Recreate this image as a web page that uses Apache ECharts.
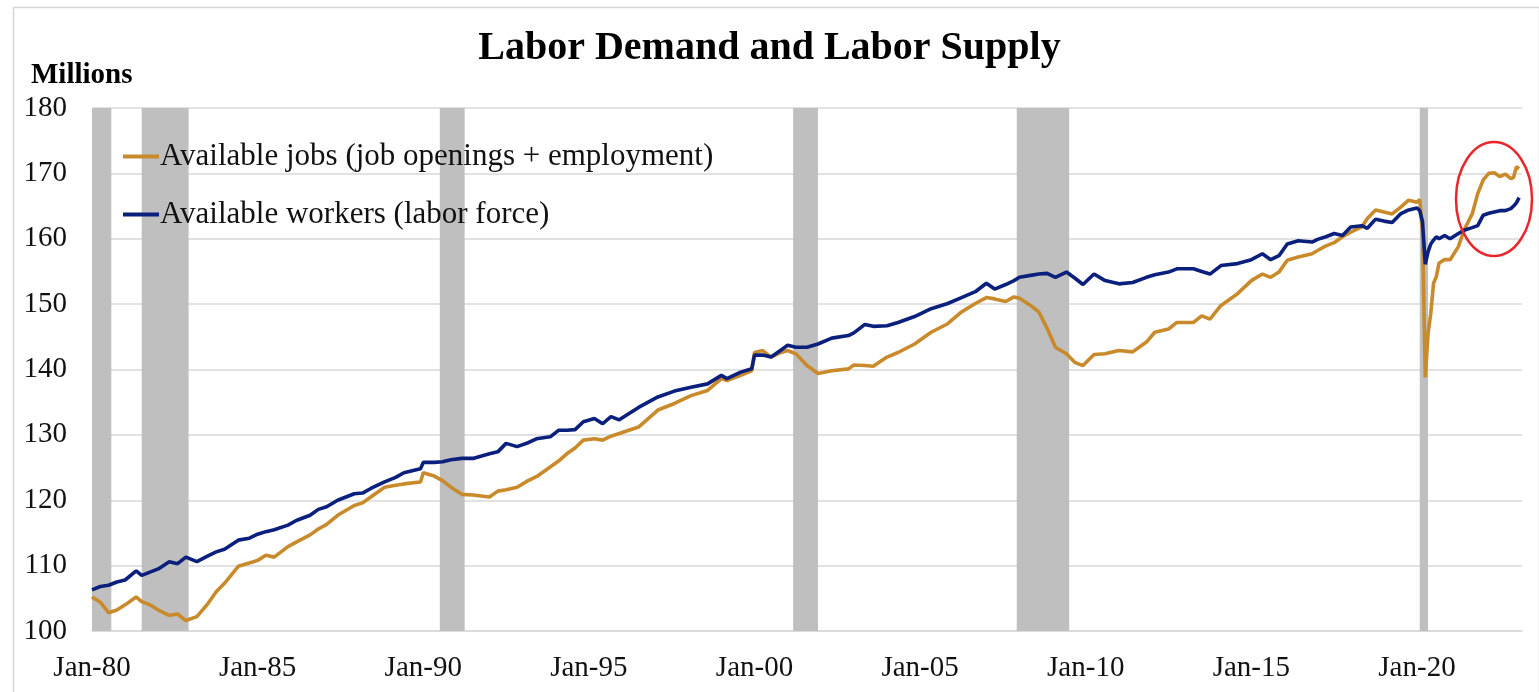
<!DOCTYPE html>
<html>
<head>
<meta charset="utf-8">
<script src="https://cdn.jsdelivr.net/npm/echarts@6/dist/echarts.min.js"></script>
<style>
html,body{margin:0;padding:0;background:#fff;}
#chart{width:1539px;height:692px;}
</style>
</head>
<body>
<div id="chart"></div>
<script>
// ---- data (millions) ----
const dates = ['1980-01','1980-04','1980-07','1980-10','1981-01','1981-05','1981-07','1981-10','1982-01','1982-05','1982-08','1982-11','1983-03','1983-07','1983-10','1984-01','1984-06','1984-10','1985-01','1985-04','1985-07','1985-12','1986-03','1986-08','1986-11','1987-02','1987-06','1987-12','1988-03','1988-06','1988-11','1989-03','1989-06','1989-12','1990-01','1990-05','1990-08','1990-11','1991-03','1991-07','1992-01','1992-04','1992-07','1992-11','1993-03','1993-06','1993-11','1994-02','1994-05','1994-08','1994-11','1995-03','1995-06','1995-09','1995-12','1996-07','1997-02','1997-08','1998-02','1998-08','1999-01','1999-03','1999-08','1999-12','2000-01','2000-04','2000-07','2000-10','2001-01','2001-04','2001-08','2001-12','2002-05','2002-11','2003-01','2003-05','2003-08','2004-01','2004-05','2004-11','2005-05','2005-11','2006-04','2006-09','2007-01','2007-04','2007-08','2007-11','2008-01','2008-05','2008-08','2008-11','2009-02','2009-06','2009-09','2009-12','2010-04','2010-08','2011-01','2011-06','2011-11','2012-02','2012-07','2012-10','2013-04','2013-07','2013-10','2014-02','2014-08','2015-01','2015-05','2015-08','2015-11','2016-02','2016-06','2016-11','2017-01','2017-04','2017-07','2017-10','2018-01','2018-05','2018-07','2018-10','2019-01','2019-04','2019-07','2019-10','2020-01','2020-02','2020-03','2020-04','2020-05','2020-06','2020-07','2020-08','2020-09','2020-11','2021-01','2021-04','2021-06','2021-09','2021-11','2022-01','2022-03','2022-05','2022-07','2022-09','2022-11','2022-12','2023-01','2023-02'];
const workers = [106.3,106.8,107.0,107.5,107.8,109.2,108.5,109.0,109.5,110.6,110.3,111.3,110.6,111.5,112.1,112.5,113.9,114.2,114.8,115.2,115.5,116.2,116.9,117.7,118.6,119.0,120.0,121.0,121.1,121.8,122.8,123.5,124.2,124.8,125.8,125.8,125.9,126.2,126.4,126.4,127.1,127.4,128.7,128.2,128.8,129.4,129.7,130.7,130.7,130.8,132.0,132.5,131.7,132.8,132.3,134.2,135.8,136.7,137.3,137.8,139.1,138.6,139.6,140.1,142.2,142.2,141.9,142.8,143.7,143.4,143.4,143.9,144.8,145.2,145.6,146.9,146.6,146.7,147.2,148.1,149.3,150.1,151.0,151.9,153.2,152.3,153.0,153.6,154.1,154.4,154.6,154.7,154.1,154.9,154.0,153.0,154.6,153.6,153.1,153.3,154.1,154.5,154.9,155.4,155.4,155.0,154.6,155.9,156.2,156.8,157.7,156.8,157.4,159.2,159.7,159.5,159.9,160.3,160.8,160.5,161.8,162.0,161.6,163.0,162.7,162.5,163.8,164.4,164.7,164.3,162.6,156.1,158.0,159.2,159.8,160.3,160.0,160.5,160.0,160.8,161.3,161.7,162.0,163.6,163.9,164.1,164.3,164.3,164.6,165.0,165.5,166.3];
const jobs = [105.2,104.4,102.8,103.2,104.0,105.2,104.5,104.0,103.2,102.4,102.6,101.6,102.2,104.2,106.0,107.3,109.9,110.4,110.8,111.6,111.3,112.9,113.6,114.7,115.6,116.3,117.7,119.2,119.6,120.5,122.0,122.3,122.5,122.8,124.2,123.7,123.0,122.0,120.9,120.8,120.5,121.4,121.6,122.0,123.0,123.6,125.1,126.0,127.1,128.0,129.2,129.4,129.2,129.8,130.2,131.2,133.8,134.8,136.0,136.8,138.6,138.3,139.1,139.8,142.6,142.9,141.9,142.5,142.9,142.4,140.6,139.4,139.8,140.1,140.7,140.6,140.5,141.9,142.6,143.9,145.7,147.0,148.8,150.1,151.0,150.8,150.4,151.1,150.9,149.8,148.8,146.3,143.4,142.4,141.1,140.6,142.3,142.4,142.9,142.7,144.2,145.7,146.2,147.2,147.2,148.2,147.7,149.8,151.6,153.6,154.6,154.1,154.9,156.7,157.2,157.7,158.2,158.9,159.4,160.3,161.0,161.8,163.1,164.4,164.1,163.8,164.8,165.9,165.6,166.0,161.0,138.8,145.5,148.6,153.2,154.2,156.3,156.8,156.8,158.8,161.3,163.8,166.9,169.0,170.0,170.1,169.5,169.9,169.2,169.4,171.0,170.7];
const recessionStart = ['1980-01','1981-07','1990-07','2001-03','2007-12','2020-02'];
const recessionEnd   = ['1980-07','1982-11','1991-03','2001-11','2009-06','2020-04'];
const seriesNames = ['Available jobs (job openings + employment)','Available workers (labor force)'];

function toYear(s){ const p = s.split('-').map(Number); return p[0] + (p[1]-1)/12; }

const FONT = '"Liberation Serif","Times New Roman",serif';
const chart = echarts.init(document.getElementById('chart'));

const recessionAreas = recessionStart.map((s,i)=>[{xAxis: toYear(s)}, {xAxis: toYear(recessionEnd[i]) + 1/12}]);

chart.setOption({
  backgroundColor:'#ffffff',
  animation:false,
  title:{
    text:'Labor Demand and Labor Supply',
    left:'center', top:24,
    textStyle:{fontFamily:FONT, fontWeight:'bold', fontSize:40, color:'#000'}
  },
  legend:{
    orient:'vertical', left:123, top:141, padding:0,
    icon:'rect', itemWidth:36, itemHeight:4, itemGap:27,
    textStyle:{fontFamily:FONT, fontSize:31, color:'#111', padding:[0,0,0,-4]},
    data: seriesNames
  },
  grid:{left:92, right:17, top:108, bottom:61},
  xAxis:{
    type:'value', min:1980, max:2023.17, interval:5,
    axisLine:{show:true, lineStyle:{color:'#d9d9d9', width:1.5}},
    axisTick:{show:false},
    splitLine:{show:false},
    axisLabel:{
      fontFamily:FONT, fontSize:29, color:'#111', margin:23, showMaxLabel:false,
      formatter: v => 'Jan-' + String(Math.round(v) % 100).padStart(2,'0')
    }
  },
  yAxis:{
    type:'value', min:100, max:180, interval:10,
    name:'Millions', nameLocation:'end', nameGap:18,
    nameTextStyle:{fontFamily:FONT, fontWeight:'bold', fontSize:29, color:'#000', align:'left', padding:[0,0,0,-61]},
    axisLine:{show:false}, axisTick:{show:false},
    splitLine:{lineStyle:{color:'#d9d9d9', width:1.5}},
    axisLabel:{fontFamily:FONT, fontSize:29, color:'#111', margin:25}
  },
  series:[
    {
      type:'line', name:'recessions', data:[], z:1, silent:true,
      markArea:{silent:true, itemStyle:{color:'#bfbfbf', opacity:1}, data: recessionAreas}
    },
    {
      type:'line', name:seriesNames[0], z:3, showSymbol:false,
      lineStyle:{color:'#C98A2B', width:3.6}, itemStyle:{color:'#C98A2B'},
      data: dates.map((d,i)=>[toYear(d), jobs[i]])
    },
    {
      type:'line', name:seriesNames[1], z:4, showSymbol:false,
      lineStyle:{color:'#0B1F7C', width:3.6}, itemStyle:{color:'#0B1F7C'},
      data: dates.map((d,i)=>[toYear(d), workers[i]])
    }
  ],
  graphic:[
    {type:'rect', left:11, top:5, shape:{width:1526, height:700}, style:{fill:null, stroke:'#d6d6d6', lineWidth:1.5}, silent:true, z:-1},
    {type:'ellipse', shape:{cx:1494, cy:199, rx:38, ry:57}, style:{fill:null, stroke:'#E8262B', lineWidth:2.5}, silent:true, z:10}
  ]
});
</script>
</body>
</html>
